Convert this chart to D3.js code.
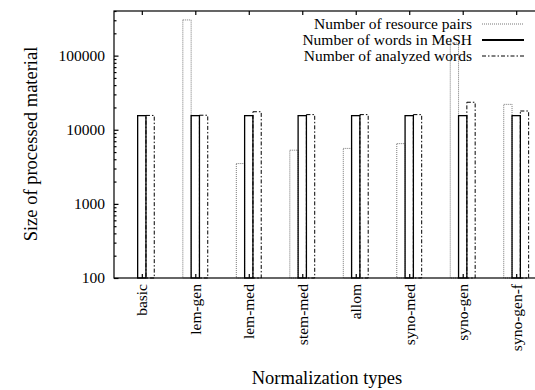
<!DOCTYPE html>
<html>
<head>
<meta charset="utf-8">
<script src="https://cdn.jsdelivr.net/npm/d3@7"></script>
<style>
  body { margin: 0; background: #fff; }
  text { font-family: "Liberation Serif", "Times New Roman", Times, serif; }
</style>
</head>
<body>
<div id="wrapper"></div>
<script>
const categories = ["basic", "lem-gen", "lem-med", "stem-med", "allom", "syno-med", "syno-gen", "syno-gen-f"];
const seriesNames = ["Number of resource pairs", "Number of words in MeSH", "Number of analyzed words"];
const resourcePairs = [null, 303000, 3500, 5300, 5600, 6500, 148000, 22000];
const meshWords = [15500, 15500, 15500, 15500, 15500, 15500, 15500, 15500];
const analyzedWords = [15600, 15700, 17500, 16000, 16000, 16000, 23500, 17900];
const yMajorTicks = [100, 1000, 10000, 100000];

function buildPlot() {
    const dimention = {
        width: 535,
        height: 390,
        margin: { top: 11, left: 114, bottom: 112, right: -9 }
    };
    dimention.boundedWidth = dimention.width - dimention.margin.left - dimention.margin.right;
    dimention.boundedHeight = dimention.height - dimention.margin.top - dimention.margin.bottom;

    const svg = d3.select("#wrapper").append("svg")
        .attr("width", dimention.width)
        .attr("height", dimention.height);

    const bounded = svg.append("g")
        .attr("transform", `translate(${dimention.margin.left},${dimention.margin.top})`);

    const xScaler = d3.scaleLinear()
        .domain([-0.52, categories.length - 0.48])
        .range([0, dimention.boundedWidth]);

    const yScaler = d3.scaleLog()
        .domain([100, 400000])
        .range([dimention.boundedHeight, 0]);

    // three bars side by side around every category
    const barWidth = 8.3;
    const subScaler = d3.scaleBand()
        .domain(d3.range(3))
        .range([-1.5 * barWidth, 1.5 * barWidth]);

    const yMinorTicks = [];
    for (let d = 100; d <= 100000; d *= 10) {
        for (let k = 2; k <= 9; k++) {
            if (d * k <= 400000) yMinorTicks.push(d * k);
        }
    }

    const fontSize = "15.5px";
    const titleSize = "18.5px";

    // y axis, ticks inward + mirror on right
    const yAxis = bounded.append("g")
        .call(d3.axisLeft(yScaler).tickValues(yMajorTicks).tickSize(-4.5).tickPadding(9).tickFormat(d3.format("d")));
    yAxis.selectAll("text").attr("font-size", fontSize).attr("fill", "#000");
    bounded.append("g")
        .call(d3.axisLeft(yScaler).tickValues(yMinorTicks).tickSize(-2.5).tickFormat(""));
    bounded.append("g")
        .attr("transform", `translate(${dimention.boundedWidth},0)`)
        .call(d3.axisRight(yScaler).tickValues(yMajorTicks).tickSize(-4.5).tickFormat(""));

    // x axis bottom with rotated labels, mirror ticks on top
    const xAxis = bounded.append("g")
        .attr("transform", `translate(0,${dimention.boundedHeight})`)
        .call(d3.axisBottom(xScaler).tickValues(d3.range(categories.length)).tickSize(-4).tickFormat((i) => categories[i]));
    xAxis.selectAll("text")
        .attr("font-size", fontSize)
        .attr("fill", "#000")
        .attr("text-anchor", "end")
        .attr("transform", "rotate(-90)")
        .attr("x", -6)
        .attr("y", 0)
        .attr("dy", "0.33em");
    bounded.append("g")
        .call(d3.axisTop(xScaler).tickValues(d3.range(categories.length)).tickSize(-4).tickFormat(""));

    bounded.selectAll(".domain").remove();
    bounded.selectAll(".tick line").attr("stroke", "#000").attr("stroke-width", 1.2);

    // bars
    const seriesValues = [resourcePairs, meshWords, analyzedWords];
    const seriesStyle = [
        { stroke: "#777", width: 1, dash: "1,1" },
        { stroke: "#000", width: 1.3, dash: null },
        { stroke: "#000", width: 1, dash: "4,2,1.5,2" }
    ];

    seriesValues.forEach((values, s) => {
        const rows = values.map((v, i) => ({ i: i, v: v })).filter((d) => d.v != null);
        bounded.append("g")
            .selectAll("rect")
            .data(rows)
            .join("rect")
            .attr("x", (d) => xScaler(d.i) + subScaler(s))
            .attr("width", subScaler.bandwidth())
            .attr("y", (d) => yScaler(d.v))
            .attr("height", (d) => dimention.boundedHeight - yScaler(d.v))
            .attr("fill", "none")
            .attr("stroke", seriesStyle[s].stroke)
            .attr("stroke-width", seriesStyle[s].width)
            .attr("stroke-dasharray", seriesStyle[s].dash);
    });

    // frame
    bounded.append("rect")
        .attr("width", dimention.boundedWidth)
        .attr("height", dimention.boundedHeight)
        .attr("fill", "none")
        .attr("stroke", "#000")
        .attr("stroke-width", 1.2);

    // legend
    const legend = svg.append("g");
    seriesNames.forEach((name, s) => {
        const yy = 24 + s * 16;
        legend.append("text")
            .attr("x", 472)
            .attr("y", yy)
            .attr("dy", "0.33em")
            .attr("text-anchor", "end")
            .attr("font-size", fontSize)
            .text(name);
        legend.append("line")
            .attr("x1", 482)
            .attr("x2", 524)
            .attr("y1", yy)
            .attr("y2", yy)
            .attr("stroke", seriesStyle[s].stroke)
            .attr("stroke-width", s === 1 ? 1.8 : seriesStyle[s].width)
            .attr("stroke-dasharray", seriesStyle[s].dash);
    });

    // axis titles
    svg.append("text")
        .attr("transform", `translate(37,144) rotate(-90)`)
        .attr("text-anchor", "middle")
        .attr("font-size", titleSize)
        .text("Size of processed material");

    svg.append("text")
        .attr("x", 327)
        .attr("y", 384)
        .attr("text-anchor", "middle")
        .attr("font-size", titleSize)
        .text("Normalization types");
}

buildPlot();
</script>
</body>
</html>
